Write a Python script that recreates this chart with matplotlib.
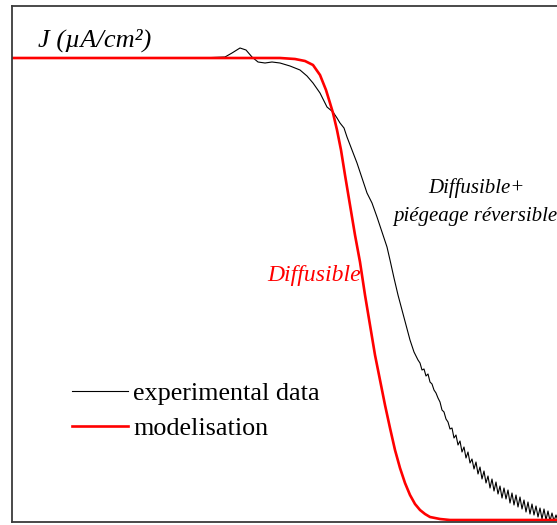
import numpy as np
import matplotlib.pyplot as plt

# ===== DATA (x = time a.u., y = height a.u.) =====
exp_x = [12, 100, 200, 225, 232, 240, 246, 252, 258, 265, 272, 280, 290, 300, 307, 313,
         320, 327, 333, 337, 340, 344, 347, 352, 357, 362, 367, 372, 377, 382, 387, 390,
         394, 398, 402, 406, 410, 414, 418,
         420, 422, 424, 426, 428, 430, 432, 434, 436, 438, 440, 442, 444, 446, 448, 450,
         452, 454, 456, 458, 460, 462, 464, 466, 468, 470, 472, 474, 476, 478, 480, 482,
         484, 486, 488, 490, 492, 494, 496, 498, 500, 502, 504, 506, 508, 510, 512, 514,
         516, 518, 520, 522, 524, 526, 528, 530, 532, 534, 536, 538, 540, 542, 544, 546,
         548, 550, 552, 554, 556, 558]
exp_y = [58, 58, 58, 57, 53, 48, 50, 57, 62, 63, 62, 63, 66, 70, 76, 83,
         93, 107, 112, 118, 123, 128, 137, 150, 163, 178, 193, 203, 217, 232, 247, 260,
         278, 295, 310, 325, 340, 352, 360,
         363, 370, 369, 376, 374, 382, 384, 390, 393, 398, 402, 410, 412, 419, 422, 429,
         428, 438, 435, 445, 441, 452, 447, 458, 452, 463, 459, 469, 462, 474, 467, 479,
         471, 483, 476, 488, 479, 491, 482, 494, 486, 498, 488, 499, 490, 503, 493, 505,
         495, 507, 497, 509, 500, 512, 502, 514, 504, 515, 506, 517, 508, 519, 509, 520,
         511, 521, 513, 521, 515, 521]

mod_x = [12, 280, 295, 305, 313, 320, 326, 330, 333, 337, 341, 345, 350, 355, 360, 365,
         370, 375, 380, 385, 390, 395, 400, 405, 410, 415, 420, 425, 430, 440, 450, 560]
mod_y = [58, 58, 59, 61, 65, 75, 90, 103, 113, 130, 150, 175, 205, 235, 262, 295,
         325, 355, 380, 405, 428, 450, 468, 483, 495, 504, 510, 514, 517, 519, 520, 520]

labels = ["experimental data", "modelisation"]

# convert picture readings to t / J
t_exp = np.array(exp_x) - 12
J_exp = 520 - np.array(exp_y)
t_mod = np.array(mod_x) - 12
J_mod = 520 - np.array(mod_y)

plt.rcParams['font.family'] = ['Liberation Serif', 'DejaVu Serif']

fig = plt.figure(figsize=(5.57, 5.25), dpi=100)
ax = fig.add_axes([12 / 557, 3 / 525, 1 - 12 / 557, 516 / 525])

ax.plot(t_exp, J_exp, '-', color='black', linewidth=0.8, label=labels[0])
ax.plot(t_mod, J_mod, '-', color='#ff0000', linewidth=1.9, label=labels[1])

ax.set_xlim(0, 545)
ax.set_ylim(-2, 514)
ax.set_xticks([])
ax.set_yticks([])
for s in ['left', 'top', 'bottom']:
    ax.spines[s].set_linewidth(1.3)
    ax.spines[s].set_color('#3a3a3a')
ax.spines['right'].set_visible(False)

fig.text(38 / 557, 1 - 40 / 525, "J (µA/cm²)", fontsize=19, style='italic',
         va='center', ha='left')
fig.text(361 / 557, 1 - 275 / 525, "Diffusible", fontsize=17, style='italic',
         color='#ff0000', va='center', ha='right')
fig.text(476 / 557, 1 - 188 / 525, "Diffusible+", fontsize=15, style='italic',
         va='center', ha='center')
fig.text(393 / 557, 1 - 216 / 525, "piégeage réversible", fontsize=15, style='italic',
         va='center', ha='left')

fig.legend(loc='upper left', bbox_to_anchor=(72 / 557, 1 - 382 / 525), frameon=False,
           fontsize=18.8, handlelength=2.15, handletextpad=0.2, labelspacing=0.44,
           borderpad=0, borderaxespad=0)

plt.savefig("out.png", dpi=100)
